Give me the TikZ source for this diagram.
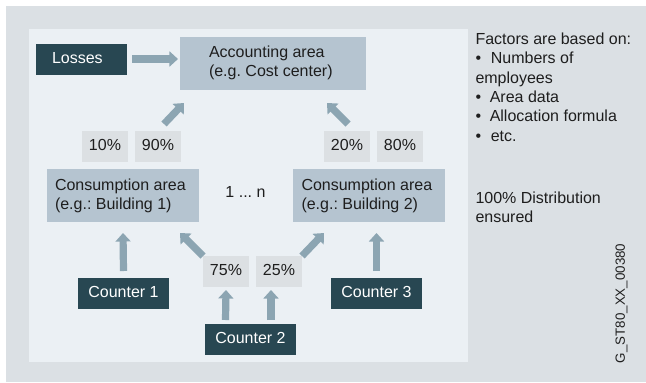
\documentclass[tikz,border=0pt]{standalone}
\usepackage{fontspec}
\setmainfont{Liberation Sans}
\usetikzlibrary{arrows.meta,calc}
\definecolor{outerbg}{HTML}{DBE0E4}
\definecolor{innerbg}{HTML}{EBF0F4}
\definecolor{areabox}{HTML}{B5C4D0}
\definecolor{darkbox}{HTML}{284752}
\definecolor{arrowc}{HTML}{8CA5B2}
\definecolor{pctbox}{HTML}{DCE0E3}
\definecolor{txt}{HTML}{1E1E1E}
\tikzset{
  x=0.75pt,y=-0.75pt,
  every node/.style={font=\fontsize{12pt}{14.5pt}\selectfont\frenchspacing,text=txt,inner sep=0pt,outer sep=0pt},
  darkn/.style={fill=darkbox,text=white,minimum width=68.25pt,minimum height=23.25pt,text depth=2.5pt},
  arean/.style={fill=areabox,minimum height=39.75pt},
  pctn/.style={fill=pctbox,minimum width=34.5pt,minimum height=23.25pt,text depth=2.5pt},
  flow/.style={draw=arrowc,line width=5.4pt,-{Triangle[width=11.2pt,length=6.4pt]}},
}
\begin{document}
\begin{tikzpicture}
\useasboundingbox (0,0) rectangle (646,382);
\fill[white] (0,0) rectangle (646,382);
\fill[outerbg] (6,6) rectangle (646,382);
\fill[innerbg] (29,29) rectangle (468,362);

\node[darkn,anchor=north west] (losses) at (36,44) {};
\node[anchor=west,text=white] (lossest) at (52,58) {Losses};
\node[arean,anchor=north west,minimum width=139.5pt] (acc) at (180,37) {};
\node[anchor=north west,align=left] (acct) at (209,46) {Accounting area\\(e.g. Cost center)};
\node[pctn,anchor=north west] (p10) at (82,131) {10\%};
\node[pctn,anchor=north west] (p90) at (135,131) {90\%};
\node[pctn,anchor=north west] (p20) at (324,131) {20\%};
\node[pctn,anchor=north west] (p80) at (377,131) {80\%};
\node[arean,anchor=north west,minimum width=114pt] (c1) at (47,169) {};
\node[anchor=north west,align=left] (c1t) at (55,178.5) {Consumption area\\(e.g.: Building 1)};
\node[arean,anchor=north west,minimum width=114pt] (c2) at (293,169) {};
\node[anchor=north west,align=left] (c2t) at (301.5,178.5) {Consumption area\\(e.g.: Building 2)};
\node (dots) at (245.5,192) {1 ... n};
\node[darkn,anchor=north west] (k1) at (78,278) {Counter 1};
\node[darkn,anchor=north west] (k2) at (205,324) {Counter 2};
\node[darkn,anchor=north west] (k3) at (331,278) {Counter 3};
\node[pctn,anchor=north west] (p75) at (203,256) {75\%};
\node[pctn,anchor=north west] (p25) at (256,256) {25\%};

\draw[flow] ($(losses.east)+(5,-0.5)$) -- ($(acc.west)+(-2,-4.5)$);
\draw[flow] ($(p90.north)+(6,-7)$) -- ($(acc.south west)+(4,13)$);
\draw[flow] ($(p20.north)+(1,-7)$) -- ($(acc.south east)+(-39,13)$);
\draw[flow] ($(k1.north)+(0,-7)$) -- ($(c1.south)+(0,11)$);
\draw[flow] ($(k3.north)+(0,-7)$) -- ($(k3.north)+(0,-45)$);
\draw[flow] ($(p75.north)+(-23,0)$) -- ($(c1.south east)+(-19,11)$);
\draw[flow] ($(p25.north)+(23,0)$) -- ($(c2.south west)+(31,11)$);
\draw[flow] ($(k2.north)+(-25,-4)$) -- ($(p75.south)+(0,3)$);
\draw[flow] ($(k2.north)+(20.5,-4)$) -- ($(p25.south)+(-8,3)$);

\node[anchor=north west,align=left] (factors) at (475.5,33) {Factors are based on:\\
\textbullet\hspace{7.3pt}Numbers of\\employees\\
\textbullet\hspace{6.5pt}Area data\\
\textbullet\hspace{6.5pt}Allocation formula\\
\textbullet\hspace{7.3pt}etc.};
\node[anchor=north west,align=left] (dist) at (475.5,192) {100\% Distribution\\ensured};
\node[rotate=90,anchor=west,font=\fontsize{10pt}{12pt}\selectfont] (code) at (621.5,363) {G\_ST80\_XX\_00380};
\end{tikzpicture}
\end{document}
